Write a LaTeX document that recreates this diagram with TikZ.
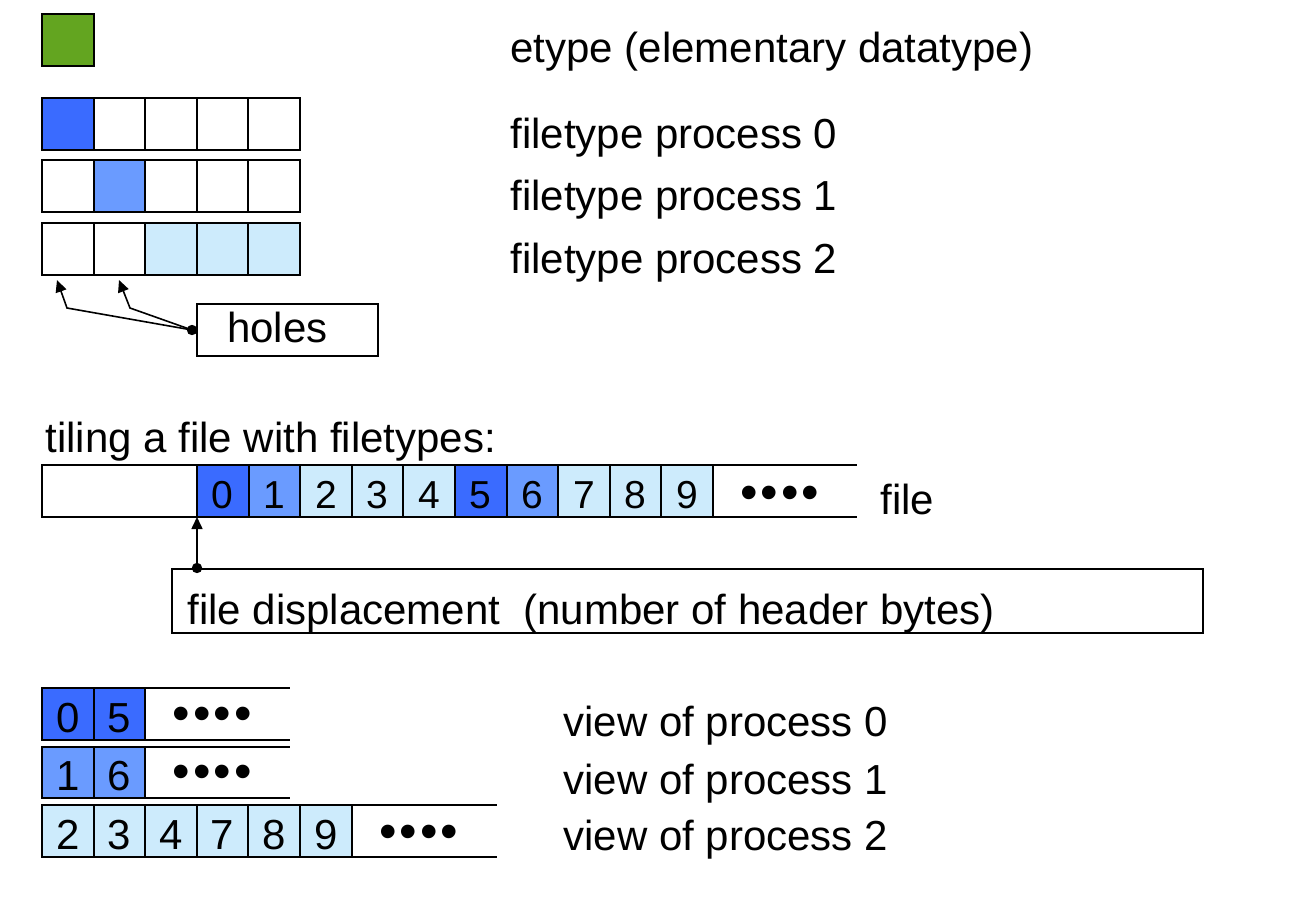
\documentclass[tikz,border=0pt]{standalone}
\usepackage{fontspec}
\setmainfont{Liberation Sans}
\usetikzlibrary{arrows.meta,calc}
\definecolor{egreen}{HTML}{63A520}
\definecolor{pdark}{HTML}{3A6BFF}
\definecolor{pmid}{HTML}{6A9BFF}
\definecolor{plight}{HTML}{CDEBFC}
\newcommand{\fourdots}{•\hspace{1.5pt}•\hspace{1.5pt}•\hspace{1.5pt}•}
\begin{document}
\begin{tikzpicture}[x=0.5pt,y=-0.5pt,
  cell/.style={draw=black,line width=1pt,minimum width=25.8pt,minimum height=26pt,inner sep=0pt,outer sep=0pt},
  fnum/.style={cell,font=\fontsize{19.5}{20}\selectfont,text height=17pt,text depth=0pt},
  vnum/.style={cell,font=\fontsize{21}{22}\selectfont,text height=18pt,text depth=0pt},
  lbl/.style={anchor=base west,inner sep=0pt,font=\fontsize{21}{25}\selectfont},
  dotsx/.style={anchor=base,inner sep=0pt,font=\fontsize{25}{25}\selectfont},
  edge/.style={line width=1pt},
  arr/.style={line width=0.8pt,-{Triangle[length=6pt,width=5.5pt]}}
]
\useasboundingbox (0,0) rectangle (1314,916);

% etype
\node[cell,fill=egreen,minimum width=26pt] (et) at (68,40) {};
\node[lbl] (etl) at (510,62) {etype (elementary datatype)};

% filetypes
\foreach \c/\f in {0/pdark,1/white,2/white,3/white,4/white}
  \node[cell,fill=\f] (ta\c) at ({67.8+51.6*\c},124) {};
\foreach \c/\f in {0/white,1/pmid,2/white,3/white,4/white}
  \node[cell,fill=\f] (tb\c) at ({67.8+51.6*\c},186) {};
\foreach \c/\f in {0/white,1/white,2/plight,3/plight,4/plight}
  \node[cell,fill=\f] (tc\c) at ({67.8+51.6*\c},248.5) {};
\node[lbl] (tal) at (510,148) {filetype process 0};
\node[lbl] (tbl) at (510,210) {filetype process 1};
\node[lbl] (tcl) at (510,273) {filetype process 2};

% holes
\node[draw,edge,minimum width=90.5pt,minimum height=26pt,inner sep=0pt,text width=60.5pt,align=left,
      font=\fontsize{21}{25}\selectfont,text height=14pt,text depth=2pt] (holes) at (287.5,330) {holes};
\coordinate (hd) at (192,330);
\coordinate (hk1) at (67,308);
\coordinate (hk2) at (130,308);
\coordinate (ht1) at (57,280);
\coordinate (ht2) at (119,280);
\draw[arr] (hd) -- (hk1) -- (ht1);
\draw[arr] (hd) -- (hk2) -- (ht2);
\fill (hd) circle (2.6pt);

% tiling
\node[lbl] (til) at (45,452) {tiling a file with filetypes:};
\node[cell,minimum width=77.5pt] (fhd) at (119.5,491) {};
\foreach \i/\f in {0/pdark,1/pmid,2/plight,3/plight,4/plight,5/pdark,6/pmid,7/plight,8/plight,9/plight}
  \node[fnum,fill=\f] (f\i) at ({222.8+51.6*\i},491) {\i};
\coordinate (fte) at (857,465);
\coordinate (fbe) at (857,517);
\draw[edge] (f9.north east) -- (fte);
\draw[edge] (f9.south east) -- (fbe);
\node[dotsx] (fdots) at (780,509) {\fourdots};
\node[lbl] (fl) at (880,514) {file};

% displacement
\node[draw,edge,minimum width=515.5pt,minimum height=32pt,inner sep=0pt] (disp) at (687.5,601) {};
\node[lbl] (dispt) at (187,624) {file displacement\ \ (number of header bytes)};
\coordinate (dd) at (disp.north -| f0.south west);
\draw[arr] (dd) -- (f0.south west);
\fill (dd) circle (2.6pt);

% views
\node[vnum,fill=pdark] (va0) at (67.8,714) {0};
\node[vnum,fill=pdark] (va1) at (119.4,714) {5};
\coordinate (vate) at (290,688);
\coordinate (vabe) at (290,740);
\draw[edge] (va1.north east) -- (vate);
\draw[edge] (va1.south east) -- (vabe);
\node[dotsx] (vad) at (212.5,730.3) {\fourdots};

\node[vnum,fill=pmid,minimum height=25.5pt] (vb0) at (67.8,772.5) {1};
\node[vnum,fill=pmid,minimum height=25.5pt] (vb1) at (119.4,772.5) {6};
\coordinate (vbte) at (290,747);
\coordinate (vbbe) at (290,798);
\draw[edge] (vb1.north east) -- (vbte);
\draw[edge] (vb1.south east) -- (vbbe);
\node[dotsx] (vbd) at (212.5,788.7) {\fourdots};

\foreach \i/\n in {0/2,1/3,2/4,3/7,4/8,5/9}
  \node[vnum,fill=plight] (vc\i) at ({67.8+51.6*\i},831) {\n};
\coordinate (vcte) at (497,805);
\coordinate (vcbe) at (497,857);
\draw[edge] (vc5.north east) -- (vcte);
\draw[edge] (vc5.south east) -- (vcbe);
\node[dotsx] (vcd) at (419,848.7) {\fourdots};

\node[lbl] (val) at (563,736) {view of process 0};
\node[lbl] (vbl) at (563,794) {view of process 1};
\node[lbl] (vcl) at (563,850) {view of process 2};
\end{tikzpicture}
\end{document}
